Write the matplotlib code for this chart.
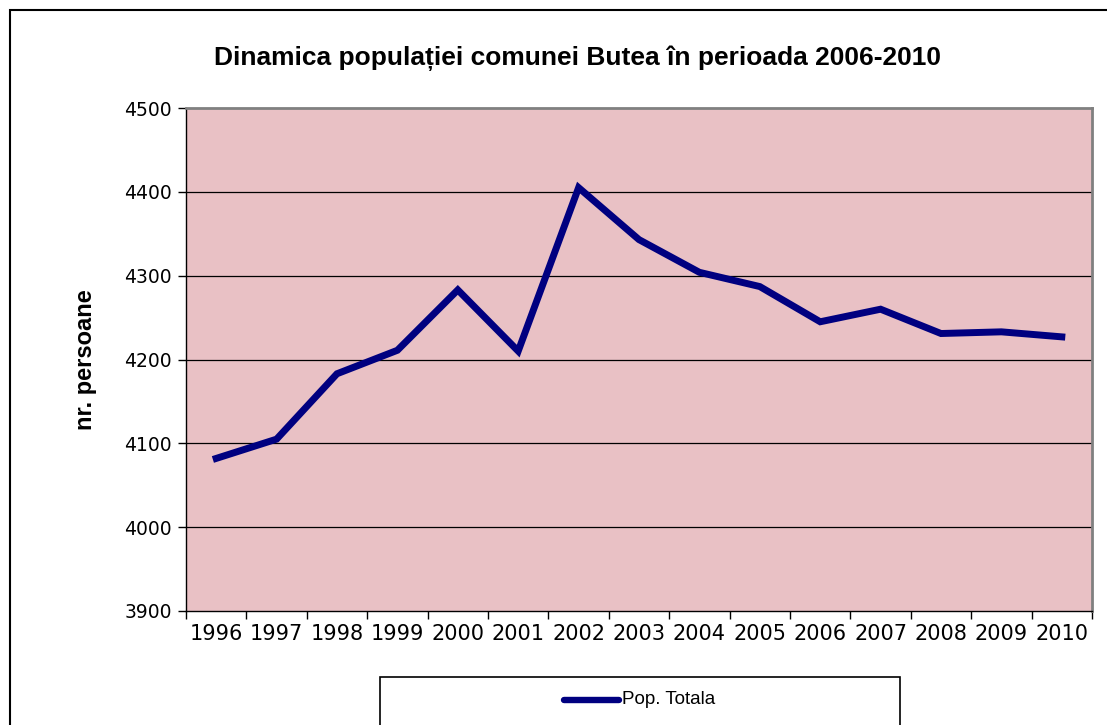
import matplotlib
matplotlib.use("Agg")
import matplotlib.pyplot as plt
from matplotlib.patches import Rectangle
from matplotlib.lines import Line2D

years = ["1996", "1997", "1998", "1999", "2000", "2001", "2002", "2003",
         "2004", "2005", "2006", "2007", "2008", "2009", "2010"]
pop_totala = [4082, 4105, 4183, 4211, 4283, 4210, 4405, 4343,
              4304, 4287, 4245, 4260, 4231, 4233, 4227]
y_ticks = [3900, 4000, 4100, 4200, 4300, 4400, 4500]

title = "Dinamica populației comunei Butea în perioada 2006-2010"
ylabel = "nr. persoane"
series_name = "Pop. Totala"

plt.rcParams['font.family'] = ['Liberation Sans', 'DejaVu Sans']

fig = plt.figure(figsize=(11.07, 7.25), dpi=100)
fig.patch.set_facecolor("white")

# outer chart frame (cut off at right and bottom)
fig.add_artist(Rectangle((10/1107, -0.05), 1.2, 1 - 10/725 + 0.05,
                         transform=fig.transFigure, fill=False,
                         edgecolor="black", linewidth=1.5))

ax = fig.add_axes([186/1107, (725-611)/725, (1092-186)/1107, (611-108)/725])
ax.set_facecolor("#e9c1c5")

n = len(years)
xs = [i + 0.5 for i in range(n)]
ax.plot(xs, pop_totala, color="#000080", linewidth=5.0,
        solid_joinstyle="miter", zorder=3)

ax.set_xlim(0, n)
ax.set_ylim(y_ticks[0], y_ticks[-1])
ax.set_yticks(y_ticks)
ax.set_yticklabels([str(v) for v in y_ticks], fontsize=13.5, family='DejaVu Sans')
ax.set_xticks(range(n + 1))
ax.set_xticklabels([])
ax.set_xticks(xs, minor=True)
ax.set_xticklabels(years, minor=True, fontsize=15, family='DejaVu Sans')
ax.tick_params(axis='x', which='minor', length=0, pad=9)
ax.tick_params(axis='x', which='major', length=6, width=1, color="black")
ax.tick_params(axis='y', length=6, width=1, color="black", pad=4)

for v in y_ticks[1:-1]:
    ax.axhline(v, color="black", linewidth=0.9, zorder=1)

for s in ["left", "bottom"]:
    ax.spines[s].set_color("black")
    ax.spines[s].set_linewidth(1)
for s in ["top", "right"]:
    ax.spines[s].set_color("#808080")
    ax.spines[s].set_linewidth(2)

ax.set_ylabel(ylabel, fontsize=17, fontweight="bold", labelpad=20)

fig.text(578/1107, 1 - 58/725, title, ha="center", va="center",
         fontsize=19, fontweight="bold")

# legend box
fig.add_artist(Rectangle((380/1107, -0.05), (900-380)/1107, (725-677)/725 + 0.05,
                         transform=fig.transFigure, fill=False,
                         edgecolor="black", linewidth=1.2))
fig.add_artist(Line2D([564/1107, 619/1107], [1 - 700/725, 1 - 700/725],
                      transform=fig.transFigure, color="#000080",
                      linewidth=4.6, solid_capstyle="round"))
fig.text(622/1107, 1 - 700/725, series_name, ha="left", va="center", fontsize=13.5)

fig.savefig("out.png", dpi=100)
